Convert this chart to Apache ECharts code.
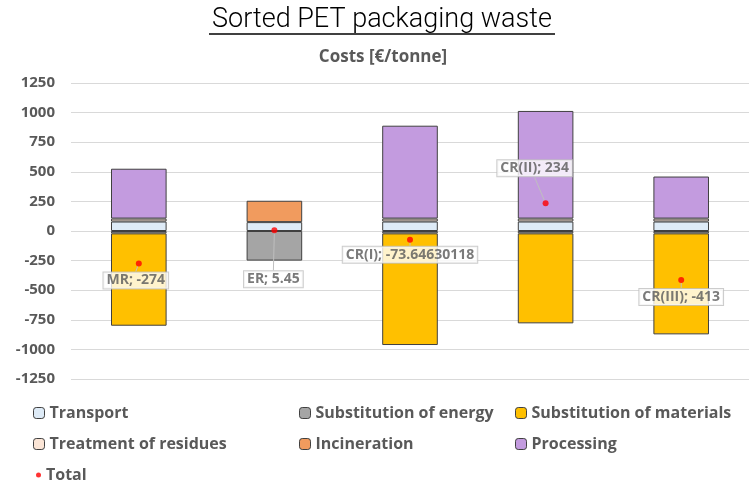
<!DOCTYPE html>
<html>
<head>
<meta charset="utf-8">
<script src="https://cdn.jsdelivr.net/npm/echarts@6/dist/echarts.min.js"></script>
<style>
html,body{margin:0;padding:0;background:#fff;}
#chart{width:749px;height:485px;}
</style>
</head>
<body>
<div id="chart"></div>
<script>
// ---- data ----
const categories = ['MR', 'ER', 'CR(I)', 'CR(II)', 'CR(III)'];
const transport = [80, 75, 80, 80, 80];
const treatmentOfResidues = [25, '-', 25, 25, 25];
const incineration = ['-', 180.45, '-', '-', '-'];
const processing = [421, '-', 784.35, 909, 355];
const substitutionOfEnergy = [-20, -250, -20, -20, -20];
const substitutionOfMaterials = [-780, '-', -943, -760, -853];
const total = [-274, 5.45, -73.64630118, 234, -413];
const yTicks = [-1250, -1000, -750, -500, -250, 0, 250, 500, 750, 1000, 1250];

// ---- styling / layout (not data) ----
const labelOffsets = [[-3, 17], [-1, 49], [0, 15], [-11, -35], [0, 17]];
const gray = '#595959';
const border = '#404040';
const fontMain = 'Open Sans';

const chart = echarts.init(document.getElementById('chart'));

function barSeries(name, data, color) {
  return {
    name: name,
    type: 'bar',
    stack: 'cost',
    data: data,
    barWidth: '41%',
    itemStyle: { color: color, borderColor: border, borderWidth: 1 },
    emphasis: { disabled: true }
  };
}

const legendText = { color: gray, fontWeight: 'bold', fontSize: 16, fontFamily: fontMain };
const legendBase = {
  orient: 'vertical', itemWidth: 11, itemHeight: 11, itemGap: 15,
  textStyle: legendText, selectedMode: false,
  itemStyle: { borderColor: border, borderWidth: 1 }
};

chart.setOption({
  animation: false,
  grid: { left: 71, right: 0, top: 83, bottom: 106 },
  graphic: [
    { type: 'text', x: 382, y: 20, style: { text: 'Sorted PET packaging waste', align: 'center', verticalAlign: 'middle', font: '300 27px Roboto', fill: '#000' } },
    { type: 'line', shape: { x1: 209, y1: 34, x2: 555, y2: 34 }, style: { stroke: '#000', lineWidth: 1.5 } },
    { type: 'text', x: 383, y: 57, style: { text: 'Costs [€/tonne]', align: 'center', verticalAlign: 'middle', font: 'bold 17px "Open Sans"', fill: gray } }
  ],
  legend: [
    Object.assign({}, legendBase, { left: 28, top: 400, data: ['Transport', 'Treatment of residues'] }),
    Object.assign({}, legendBase, { left: 294, top: 400, data: ['Substitution of energy', 'Incineration'] }),
    Object.assign({}, legendBase, { left: 510, top: 400, data: ['Substitution of materials', 'Processing'] }),
    { left: 31, top: 462, itemWidth: 5, itemHeight: 5, textStyle: legendText, selectedMode: false,
      data: [{ name: 'Total', icon: 'circle' }] }
  ],
  xAxis: {
    type: 'category', data: categories,
    axisLine: { show: false }, axisTick: { show: false }, axisLabel: { show: false },
    splitLine: { show: false }
  },
  yAxis: {
    type: 'value', min: yTicks[0], max: yTicks[yTicks.length - 1], interval: 250,
    axisLine: { show: false }, axisTick: { show: false },
    axisLabel: { color: gray, fontWeight: 'bold', fontSize: 15, fontFamily: fontMain, margin: 16,
      formatter: v => String(v) },
    splitLine: { lineStyle: { color: '#d9d9d9', width: 1 } }
  },
  series: [
    barSeries('Transport', transport, '#DEEBF7'),
    barSeries('Treatment of residues', treatmentOfResidues, '#FBE5D6'),
    barSeries('Incineration', incineration, '#F19B5E'),
    barSeries('Processing', processing, '#C39BDF'),
    barSeries('Substitution of energy', substitutionOfEnergy, '#A5A5A5'),
    barSeries('Substitution of materials', substitutionOfMaterials, '#FFC000'),
    {
      name: 'Total', type: 'scatter', data: total, symbol: 'circle', symbolSize: 6,
      itemStyle: { color: '#FF0000' }, z: 5,
      label: {
        show: true, position: 'inside',
        formatter: p => p.name + '; ' + p.value,
        color: gray, fontWeight: 'bold', fontSize: 14, fontFamily: fontMain,
        backgroundColor: '#fff', borderColor: '#bfbfbf', borderWidth: 1, padding: [1, 3]
      },
      labelLine: { show: true, lineStyle: { color: '#bfbfbf', width: 1 } },
      labelLayout: p => ({ dx: labelOffsets[p.dataIndex][0], dy: labelOffsets[p.dataIndex][1] }),
      emphasis: { disabled: true }
    }
  ]
});
</script>
</body>
</html>
